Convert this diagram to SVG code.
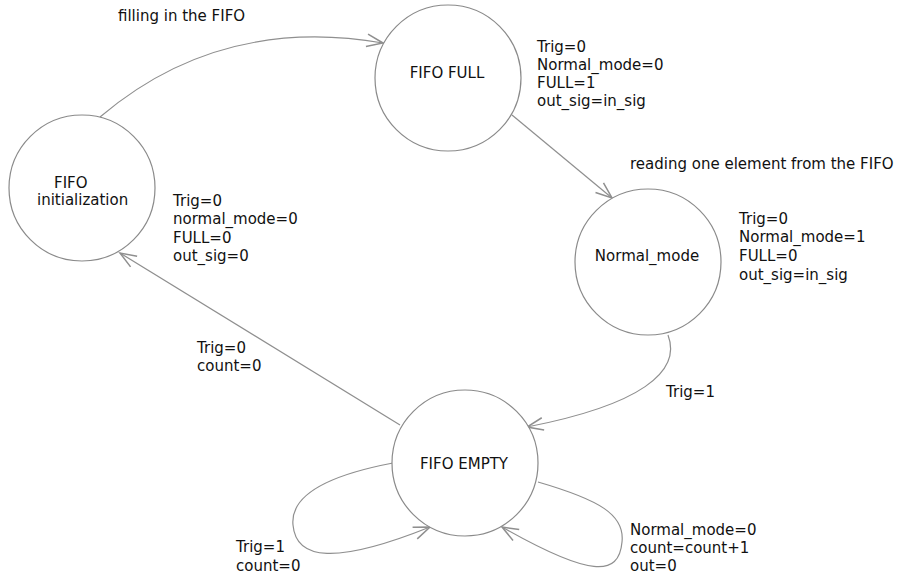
<svg xmlns="http://www.w3.org/2000/svg" width="902" height="576" viewBox="0 0 902 576">
<style>
.st{fill:#fff;stroke:#8a8a8a;stroke-width:1.2}
.ed{fill:none;stroke:#8f8f8f;stroke-width:1.2}
text{font-family:"DejaVu Sans","Liberation Sans",sans-serif;font-size:15px;fill:#111}
</style>
<defs>
<marker id="ah" markerUnits="userSpaceOnUse" markerWidth="20" markerHeight="20" refX="0" refY="0" viewBox="-14 -8 16 16" orient="auto" overflow="visible">
<path d="M-13,-5 L0,0 L-13,5" fill="none" stroke="#8f8f8f" stroke-width="1.2"/>
</marker>
</defs>
<rect width="902" height="576" fill="#fff"/>
<g id="connectors">
<path class="ed" d="M100,117 Q220,15 383,43" marker-end="url(#ah)"/>
<path class="ed" d="M512,115 L612,198" marker-end="url(#ah)"/>
<path class="ed" d="M668,335 C682,372 640,405 527,427" marker-end="url(#ah)"/>
<path class="ed" d="M400,425 L120,253" marker-end="url(#ah)"/>
<path class="ed" d="M393,463 C330,475 290,495 293,525 C296,560 335,565 430,527" marker-end="url(#ah)"/>
<path class="ed" d="M538,482 C600,500 625,515 622,542 C619,577 590,577 502,527" marker-end="url(#ah)"/>
<text x="118" y="21">filling in the FIFO</text>
<text x="630" y="169">reading one element from the FIFO</text>
<text x="666" y="397">Trig=1</text>
<text x="197" y="353">Trig=0</text>
<text x="197" y="371">count=0</text>
<text x="236" y="552">Trig=1</text>
<text x="236" y="571">count=0</text>
<text x="630" y="535">Normal_mode=0</text>
<text x="630" y="553">count=count+1</text>
<text x="630" y="571">out=0</text>
</g>
<g id="init">
<circle class="st" cx="82" cy="188" r="73"/>
<text x="54" y="188">FIFO</text>
<text x="37" y="205">initialization</text>
<text x="173" y="206">Trig=0</text>
<text x="173" y="224">normal_mode=0</text>
<text x="173" y="243">FULL=0</text>
<text x="173" y="261">out_sig=0</text>
</g>
<g id="full">
<circle class="st" cx="448" cy="78" r="73"/>
<text x="447" y="78" text-anchor="middle">FIFO FULL</text>
<text x="537" y="52">Trig=0</text>
<text x="537" y="70">Normal_mode=0</text>
<text x="537" y="88">FULL=1</text>
<text x="537" y="106">out_sig=in_sig</text>
</g>
<g id="normal">
<circle class="st" cx="648" cy="262" r="73"/>
<text x="647" y="261" text-anchor="middle">Normal_mode</text>
<text x="739" y="224">Trig=0</text>
<text x="739" y="242">Normal_mode=1</text>
<text x="739" y="261">FULL=0</text>
<text x="739" y="280">out_sig=in_sig</text>
</g>
<g id="empty">
<circle class="st" cx="465" cy="463" r="73"/>
<text x="464" y="469" text-anchor="middle">FIFO EMPTY</text>
</g>
</svg>
